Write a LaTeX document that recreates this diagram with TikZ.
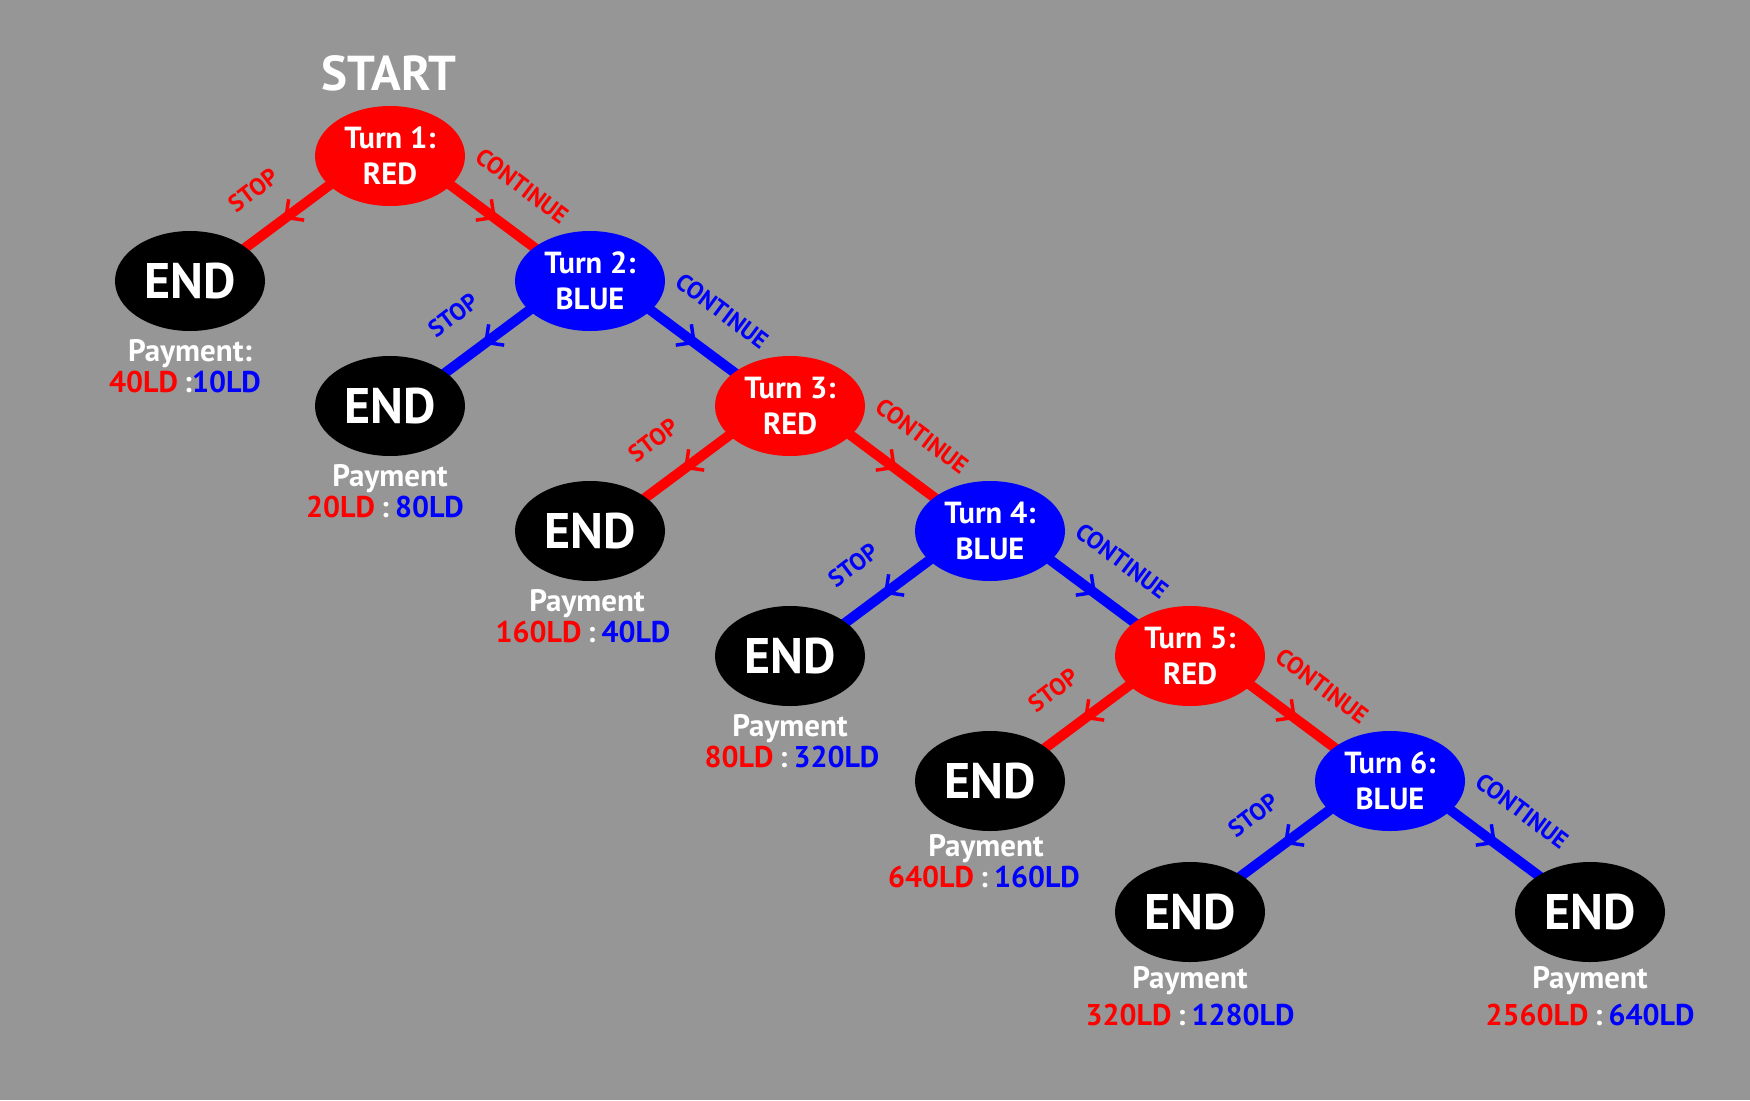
\documentclass[tikz,border=0pt]{standalone}
\usepackage{fontspec}
\setmainfont{PT Sans}
\usetikzlibrary{shapes.geometric,calc,decorations.markings}
\definecolor{bggray}{RGB}{150,150,150}
\definecolor{myred}{RGB}{255,0,0}
\definecolor{myblue}{RGB}{0,0,255}
\pgfdeclarelayer{bg}
\pgfdeclarelayer{edges}
\pgfsetlayers{bg,edges,main}
\newcommand{\payval}[2]{{\color{myred}#1}{\color{white}\hspace{6pt}:\hspace{6pt}}{\color{myblue}#2}}
\begin{document}
\begin{tikzpicture}[x=1pt,y=-1pt,
  turn/.style={ellipse, fill=#1, minimum width=150pt, minimum height=100pt, inner sep=0pt, text=white, align=center, font=\fontsize{30.5}{36}\selectfont\bfseries},
  endnode/.style={ellipse, fill=black, minimum width=150pt, minimum height=100pt, inner sep=0pt, text=white, font=\fontsize{50}{50}\selectfont\bfseries},
  paylbl/.style={anchor=base, text=white, inner sep=0pt, font=\fontsize{31}{31}\selectfont\bfseries},
  vallbl/.style={anchor=base, inner sep=0pt, font=\fontsize{30}{30}\selectfont\bfseries},
  stoplbl/.style={text=#1, inner sep=0pt, rotate=37, font=\fontsize{24}{24}\selectfont\bfseries},
  contlbl/.style={text=#1, inner sep=0pt, rotate=-37, font=\fontsize{24}{24}\selectfont\bfseries},
  conn/.style={draw=#1, line width=10pt, postaction={decorate},
    decoration={markings, mark=at position 0.52 with {\draw[draw=#1, line width=3.5pt, line cap=butt, line join=miter] (-13pt,13pt) -- (0pt,0pt) -- (-13pt,-13pt);}}}
]
\begin{pgfonlayer}{bg}
  \fill[bggray] (0,0) rectangle (1750,1100);
\end{pgfonlayer}
\useasboundingbox (0,0) rectangle (1750,1100);

\node[anchor=base, text=white, inner sep=0pt, font=\fontsize{49}{49}\selectfont\bfseries] (start) at (389,90) {START};

% turns
\node[turn=myred]  (t1) at (390,156) {Turn 1:\\RED};
\node[turn=myblue] (t2) at (590,281) {Turn 2:\\BLUE};
\node[turn=myred]  (t3) at (790,406) {Turn 3:\\RED};
\node[turn=myblue] (t4) at (990,531) {Turn 4:\\BLUE};
\node[turn=myred]  (t5) at (1190,656) {Turn 5:\\RED};
\node[turn=myblue] (t6) at (1390,781) {Turn 6:\\BLUE};

% ends
\node[endnode] (e1) at (190,281) {END};
\node[endnode] (e2) at (390,406) {END};
\node[endnode] (e3) at (590,531) {END};
\node[endnode] (e4) at (790,656) {END};
\node[endnode] (e5) at (990,781) {END};
\node[endnode] (e6) at (1190,912) {END};
\node[endnode] (e7) at (1590,912) {END};

% connectors
\begin{pgfonlayer}{edges}
  \draw[conn=myred]  ($(t1)+(0,-16)$) -- ($(e1)+(0,8)$);
  \draw[conn=myred]  ($(t1)+(0,-16)$) -- ($(t2)+(0,8)$);
  \draw[conn=myblue] ($(t2)+(0,-16)$) -- ($(e2)+(0,8)$);
  \draw[conn=myblue] ($(t2)+(0,-16)$) -- ($(t3)+(0,8)$);
  \draw[conn=myred]  ($(t3)+(0,-16)$) -- ($(e3)+(0,8)$);
  \draw[conn=myred]  ($(t3)+(0,-16)$) -- ($(t4)+(0,8)$);
  \draw[conn=myblue] ($(t4)+(0,-16)$) -- ($(e4)+(0,8)$);
  \draw[conn=myblue] ($(t4)+(0,-16)$) -- ($(t5)+(0,8)$);
  \draw[conn=myred]  ($(t5)+(0,-16)$) -- ($(e5)+(0,8)$);
  \draw[conn=myred]  ($(t5)+(0,-16)$) -- ($(t6)+(0,8)$);
  \draw[conn=myblue] ($(t6)+(0,-16)$) -- ($(e6)+(0,2)$);
  \draw[conn=myblue] ($(t6)+(0,-16)$) -- ($(e7)+(0,2)$);
\end{pgfonlayer}

% edge labels
\node[stoplbl=myred]  (s1) at ($(t1)+(-137,34)$) {STOP};
\node[contlbl=myred]  (c1) at ($(t1)+(132,30)$) {CONTINUE};
\node[stoplbl=myblue] (s2) at ($(t2)+(-137,34)$) {STOP};
\node[contlbl=myblue] (c2) at ($(t2)+(132,30)$) {CONTINUE};
\node[stoplbl=myred]  (s3) at ($(t3)+(-137,34)$) {STOP};
\node[contlbl=myred]  (c3) at ($(t3)+(132,30)$) {CONTINUE};
\node[stoplbl=myblue] (s4) at ($(t4)+(-137,34)$) {STOP};
\node[contlbl=myblue] (c4) at ($(t4)+(132,30)$) {CONTINUE};
\node[stoplbl=myred]  (s5) at ($(t5)+(-137,34)$) {STOP};
\node[contlbl=myred]  (c5) at ($(t5)+(132,30)$) {CONTINUE};
\node[stoplbl=myblue] (s6) at ($(t6)+(-137,34)$) {STOP};
\node[contlbl=myblue] (c6) at ($(t6)+(132,30)$) {CONTINUE};

% payments
\node[paylbl] (p1) at ($(e1)+(0,80)$) {Payment:};
\node[vallbl] (v1) at ($(e1)+(-5,111)$) {{\color{myred}40LD}{\color{white}\hspace{6pt}:}{\color{myblue}10LD}};
\node[paylbl] (p2) at ($(e2)+(0,80)$) {Payment};
\node[vallbl] (v2) at ($(e2)+(-5,111)$) {\payval{20LD}{80LD}};
\node[paylbl] (p3) at ($(e3)+(-3,80)$) {Payment};
\node[vallbl] (v3) at ($(e3)+(-7,111)$) {\payval{160LD}{40LD}};
\node[paylbl] (p4) at ($(e4)+(0,80)$) {Payment};
\node[vallbl] (v4) at ($(e4)+(2,111)$) {\payval{80LD}{320LD}};
\node[paylbl] (p5) at ($(e5)+(-4,75)$) {Payment};
\node[vallbl] (v5) at ($(e5)+(-6,106)$) {\payval{640LD}{160LD}};
\node[paylbl] (p6) at ($(e6)+(0,76)$) {Payment};
\node[vallbl] (v6) at ($(e6)+(0,113)$) {\payval{320LD}{1280LD}};
\node[paylbl] (p7) at ($(e7)+(0,76)$) {Payment};
\node[vallbl] (v7) at ($(e7)+(0,113)$) {\payval{2560LD}{640LD}};
\end{tikzpicture}
\end{document}
